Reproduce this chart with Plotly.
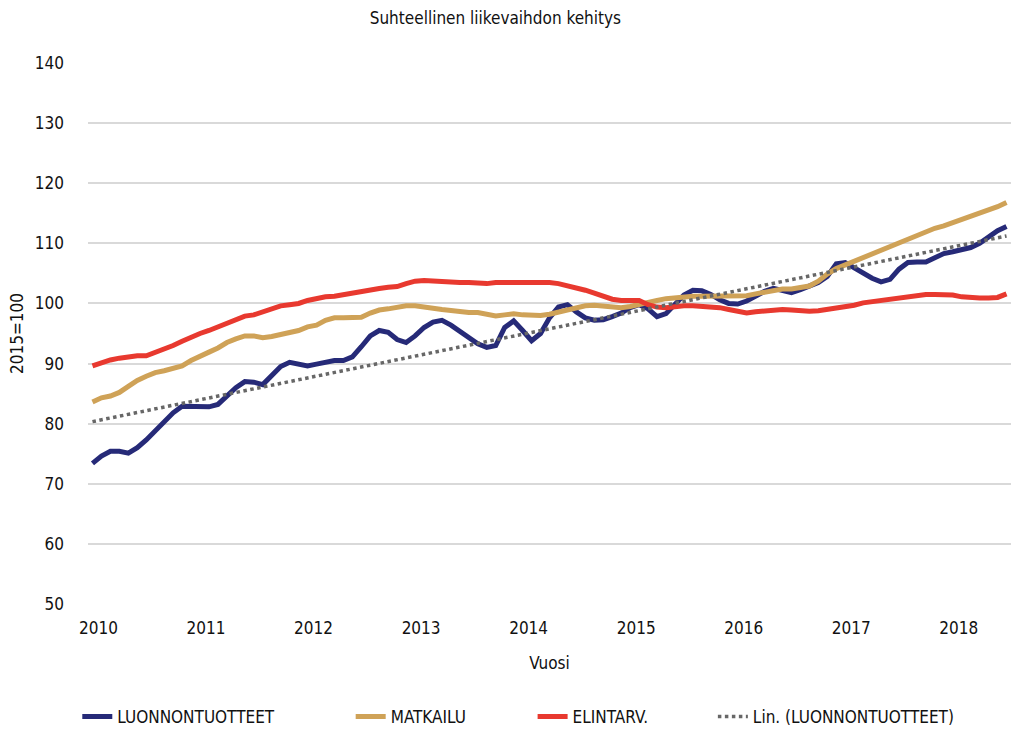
import numpy as np
import plotly.graph_objects as go

years = ["2010", "2011", "2012", "2013", "2014", "2015", "2016", "2017", "2018"]

luonnontuotteet = [
    73.4, 74.6, 75.4, 75.4, 75.1, 76.0, 77.3, 78.9, 80.4, 81.8, 82.9, 82.8,
    82.7, 82.8, 83.2, 84.5, 86.0, 87.0, 86.9, 86.5, 88.0, 89.5, 90.2, 89.9,
    89.6, 89.9, 90.2, 90.5, 90.5, 91.1, 92.8, 94.6, 95.5, 95.2, 94.0, 93.5,
    94.6, 96.0, 96.9, 97.2, 96.4, 95.4, 94.2, 93.3, 92.7, 93.0, 96.0, 97.1,
    95.5, 93.8, 95.0, 97.6, 99.4, 99.8, 98.6, 97.6, 97.2, 97.3, 97.8, 98.4,
    99.3, 99.8, 99.1, 97.8, 98.3, 99.8, 101.4, 102.2, 102.1, 101.5, 100.6, 100.0,
    99.9, 100.4, 101.3, 102.0, 102.5, 102.1, 101.8, 102.3, 102.9, 103.5, 104.5, 106.6,
    106.8, 105.9, 105.0, 104.2, 103.6, 104.0, 105.7, 106.8, 106.9, 106.9, 107.6, 108.3,
    108.6, 108.9, 109.3, 110.0, 111.0, 112.1, 112.8,
]

matkailu = [
    83.6, 84.3, 84.6, 85.2, 86.2, 87.2, 87.9, 88.5, 88.8, 89.3, 89.6, 90.5,
    91.3, 91.9, 92.6, 93.5, 94.1, 94.6, 94.6, 94.3, 94.5, 94.8, 95.2, 95.5,
    96.1, 96.4, 97.2, 97.6, 97.6, 97.6, 97.7, 98.4, 98.9, 99.1, 99.4, 99.6,
    99.6, 99.5, 99.2, 99.0, 98.8, 98.6, 98.5, 98.5, 98.1, 97.9, 98.1, 98.3,
    98.1, 98.0, 98.0, 98.2, 98.6, 99.0, 99.3, 99.6, 99.7, 99.5, 99.3, 99.3,
    99.5, 99.9, 100.2, 100.5, 100.8, 101.0, 101.2, 101.2, 101.2, 101.2, 101.1, 101.1,
    101.2, 101.3, 101.6, 101.9, 102.3, 102.4, 102.4, 102.6, 102.9, 103.7, 104.9, 105.8,
    106.4, 107.0, 107.6, 108.2, 108.8, 109.4, 110.0, 110.7, 111.4, 112.0, 112.5, 112.9,
    113.4, 113.9, 114.5, 115.1, 115.6, 116.1, 116.8,
]

elintarv = [
    89.6, 90.2, 90.6, 90.9, 91.2, 91.3, 91.3, 91.8, 92.4, 93.0, 93.7, 94.4,
    95.0, 95.5, 96.1, 96.8, 97.5, 97.9, 98.1, 98.6, 99.1, 99.6, 99.8, 100.0,
    100.5, 100.9, 101.1, 101.2, 101.5, 101.7, 102.0, 102.2, 102.5, 102.7, 102.8, 103.3,
    103.7, 103.8, 103.7, 103.5, 103.5, 103.5, 103.5, 103.3, 103.3, 103.5, 103.5, 103.5,
    103.5, 103.5, 103.7, 103.5, 103.3, 103.0, 102.7, 102.2, 101.7, 101.2, 100.7, 100.5,
    100.5, 100.5, 99.8, 99.4, 99.3, 99.5, 99.6, 99.6, 99.5, 99.5, 99.3, 99.0,
    98.6, 98.4, 98.6, 98.8, 99.0, 99.0, 98.9, 98.7, 98.7, 98.8, 99.0, 99.1,
    99.3, 99.7, 100.1, 100.3, 100.6, 100.8, 101.0, 101.2, 101.4, 101.5, 101.5, 101.5,
    101.4, 101.1, 100.9, 100.9, 100.9, 101.0, 101.6,
]

months = np.arange(len(luonnontuotteet))
# Linear trendline of LUONNONTUOTTEET (as in Excel "Lin.")
slope, intercept = np.polyfit(months, luonnontuotteet, 1)
trend = slope * months + intercept

FONT = "Liberation Sans Narrow, DejaVu Sans Condensed, sans-serif"

series = [
    ("LUONNONTUOTTEET", luonnontuotteet, dict(color="#262a78", width=5), "legend", -0.0116),
    ("MATKAILU", matkailu, dict(color="#cfa257", width=5), "legend2", 0.2846),
    ("ELINTARV.", elintarv, dict(color="#e8392f", width=5), "legend3", 0.4817),
    ("Lin. (LUONNONTUOTTEET)", trend, dict(color="#676767", width=3.5, dash="dot"), "legend4", 0.677),
]

fig = go.Figure()
legends = {}
for name, vals, line, leg, lx in series:
    fig.add_trace(go.Scatter(x=months, y=vals, mode="lines", name=name, line=line, legend=leg))
    legends[leg] = dict(orientation="h", x=lx, xanchor="left", y=-0.209, yanchor="middle",
                        font=dict(size=17), bgcolor="rgba(0,0,0,0)")

fig.update_layout(
    width=1011, height=729,
    margin=dict(l=88, r=0, t=63, b=125, autoexpand=False),
    paper_bgcolor="white", plot_bgcolor="white",
    font=dict(family=FONT, size=17, color="#111111"),
    title=dict(text="Suhteellinen liikevaihdon kehitys", x=0.49, xanchor="center",
               y=0.975, yanchor="middle", font=dict(size=17)),
    showlegend=True,
    xaxis=dict(range=[-0.5, len(months) - 0.5], tickvals=[12 * i for i in range(len(years))],
               ticktext=years, showgrid=False, zeroline=False, showline=False,
               ticks="", ticklabelshift=6, ticklabelstandoff=12, automargin=False,
               title=dict(text="Vuosi", standoff=20, font=dict(size=17))),
    yaxis=dict(range=[50, 140], dtick=10, showgrid=True, gridcolor="#d9d9d9", gridwidth=1.5,
               zeroline=False, showline=False, ticks="", ticklabelstandoff=23, automargin=False,
               title=dict(text="2015=100", standoff=6, font=dict(size=17))),
    **legends,
)

fig.write_html("out.html", post_script="document.body.style.margin='0';",
               config={"displayModeBar": False})
